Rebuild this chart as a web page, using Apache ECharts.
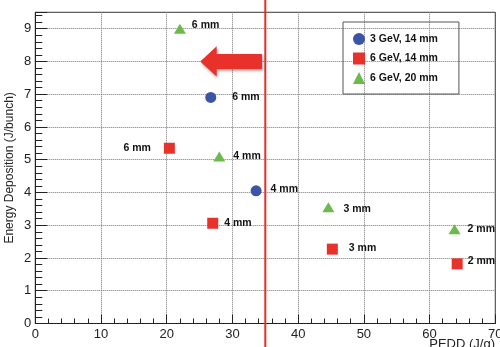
<!DOCTYPE html>
<html>
<head>
<meta charset="utf-8">
<script src="https://cdn.jsdelivr.net/npm/echarts@6/dist/echarts.min.js"></script>
<style>html,body{margin:0;padding:0;background:#fff}#c{width:500px;height:347px}</style>
</head>
<body>
<div id="c"></div>
<script>
// ---- data ----
const seriesNames = ['3 GeV, 14 mm', '6 GeV, 14 mm', '6 GeV, 20 mm'];
const blueX = [26.7, 33.6];
const blueY = [6.9, 4.05];
const blueLabels = ['6 mm', '4 mm'];
const redX = [20.4, 27.0, 45.2, 64.2];
const redY = [5.35, 3.06, 2.27, 1.82];
const redLabels = ['6 mm', '4 mm', '3 mm', '2 mm'];
const greenX = [22.0, 28.0, 44.6, 63.8];
const greenY = [9.0, 5.1, 3.55, 2.88];
const greenLabels = ['6 mm', '4 mm', '3 mm', '2 mm'];
const limitX = 35;          // vertical red limit line (J/g)
const arrowY = 8;           // arrow level
const arrowTipX = 25.1, arrowHeadX = 27.6, arrowTailX = 34.5;
const xTicks = [0, 10, 20, 30, 40, 50, 60, 70];
const yTicks = [0, 1, 2, 3, 4, 5, 6, 7, 8, 9];
const xTitle = 'PEDD (J/g)';
const yTitle = 'Energy Deposition (J/bunch)';

// ---- label layout (styles, separate from data) ----
const blueLab = [{pos:'right', d:16, off:[0,0]}, {pos:'right', d:9, off:[0,-2]}];
const redLab = [{pos:'left', d:13, off:[0,0]}, {pos:'right', d:6, off:[0,0]}, {pos:'right', d:11, off:[0,-1]}, {pos:'right', d:5, off:[0,-3]}];
const greenLab = [{pos:'right', d:6, off:[0,-4]}, {pos:'right', d:8, off:[0,0]}, {pos:'right', d:9, off:[0,2]}, {pos:'right', d:7, off:[0,0]}];

const font = 'Liberation Sans';
function build(xs, ys, labels, lay) {
  return xs.map((x, i) => ({
    value: [x, ys[i]],
    label: {
      show: true, formatter: labels[i], position: lay[i].pos, distance: lay[i].d, offset: lay[i].off,
      color: '#111', fontWeight: 'bold', fontSize: 10.5, fontFamily: font
    }
  }));
}

const chart = echarts.init(document.getElementById('c'), null, {renderer: 'canvas'});
const option = {
  animation: false,
  backgroundColor: '#fff',
  title: {text: xTitle, right: 5, top: 338, padding: 0,
    textStyle: {fontSize: 13, fontWeight: 'normal', color: '#222', fontFamily: font}},
  grid: {left: 35.3, right: 4.7, top: 12.3, bottom: 23.5, containLabel: false, outerBoundsMode: 'none',
    show: true, borderColor: '#222', borderWidth: 1, backgroundColor: 'transparent'},
  legend: {
    orient: 'vertical', left: 343, top: 22,
    padding: [11, 21, 10, 10],
    borderColor: '#555', borderWidth: 1, borderRadius: 0,
    itemWidth: 12, itemHeight: 12, itemGap: 7.5, itemTextGap: 8,
    textStyle: {color: '#111', fontWeight: 'bold', fontSize: 10.5, fontFamily: font},
    data: seriesNames
  },
  xAxis: {
    type: 'value', min: xTicks[0], max: xTicks[xTicks.length - 1], interval: 10,
    axisLine: {lineStyle: {color: '#222', width: 1}},
    axisTick: {inside: true, length: 9, lineStyle: {color: '#222'}},
    minorTick: {show: true, splitNumber: 5, length: 5, lineStyle: {color: '#222'}},
    axisLabel: {fontSize: 13, color: '#222', margin: 4, fontFamily: font},
    splitLine: {show: true, lineStyle: {type: 'dotted', color: '#777', width: 1}}
  },
  yAxis: {
    type: 'value', min: yTicks[0], max: 9.5, interval: 1,
    name: yTitle, nameLocation: 'middle', nameGap: 20, nameMoveOverlap: false,
    nameTextStyle: {fontSize: 12, color: '#222', fontFamily: font},
    axisLine: {show: true, lineStyle: {color: '#222', width: 1}},
    axisTick: {show: true, inside: true, length: 12, lineStyle: {color: '#222'}},
    minorTick: {show: true, splitNumber: 5, length: 7, lineStyle: {color: '#222'}},
    axisLabel: {fontSize: 13, color: '#222', margin: 4, fontFamily: font, showMaxLabel: false,
      formatter: v => (yTicks.indexOf(v) >= 0 ? String(v) : '')},
    splitLine: {show: true, lineStyle: {type: 'dotted', color: '#777', width: 1}}
  },
  series: [
    {name: seriesNames[0], type: 'scatter', symbol: 'circle', symbolSize: 11, itemStyle: {color: '#3b55a6', opacity: 1}, data: build(blueX, blueY, blueLabels, blueLab)},
    {name: seriesNames[1], type: 'scatter', symbol: 'rect', symbolSize: 11, itemStyle: {color: '#e8312a', opacity: 1}, data: build(redX, redY, redLabels, redLab)},
    {name: seriesNames[2], type: 'scatter', symbol: 'triangle', symbolSize: [12, 10], itemStyle: {color: '#6cba4a', opacity: 1}, data: build(greenX, greenY, greenLabels, greenLab)}
  ]
};
chart.setOption(option);

// annotations positioned through the axes
const px = (x, y) => chart.convertToPixel({gridIndex: 0}, [x, y]);
const lx = px(limitX, 0)[0];
const tip = px(arrowTipX, arrowY), head = px(arrowHeadX, arrowY), tail = px(arrowTailX, arrowY);
const hh = px(0, arrowY)[1] - px(0, arrowY + 0.46)[1];
const bh = px(0, arrowY)[1] - px(0, arrowY + 0.23)[1];
const cy = tip[1];
chart.setOption({
  graphic: [
    {type: 'line', z: 100, shape: {x1: lx, y1: 0, x2: lx, y2: 347}, style: {stroke: '#e0302a', lineWidth: 2}},
    {type: 'polygon', z: 100, shape: {points: [
      [tip[0], cy], [head[0], cy - hh], [head[0], cy - bh], [tail[0], cy - bh],
      [tail[0], cy + bh], [head[0], cy + bh], [head[0], cy + hh]
    ]}, style: {fill: '#e8312a', shadowBlur: 3, shadowColor: 'rgba(0,0,0,0.35)', shadowOffsetX: 1, shadowOffsetY: 2}}
  ]
});
</script>
</body>
</html>
